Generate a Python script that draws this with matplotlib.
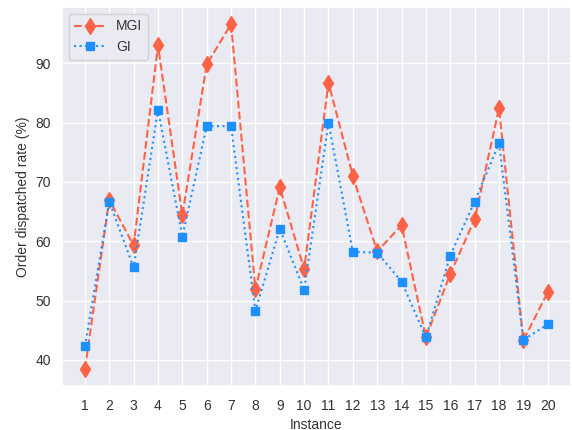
import numpy as np
import matplotlib.pyplot as plt
import seaborn as sns

sns.set_theme(style='darkgrid')
plt.rcParams['font.family'] = ['Liberation Sans', 'DejaVu Sans']

instances = np.arange(1, 21)
mgi = [38.5, 67.0, 59.3, 93.0, 64.4, 89.8, 96.6, 51.9, 69.1, 55.3,
       86.7, 71.0, 58.3, 62.7, 43.8, 54.5, 63.7, 82.4, 43.3, 51.4]
gi = [42.3, 66.7, 55.6, 82.2, 60.8, 79.4, 79.4, 48.3, 62.1, 51.8,
      80.0, 58.2, 58.1, 53.2, 43.8, 57.6, 66.7, 76.5, 43.4, 46.0]

fig, ax = plt.subplots(figsize=(5.72, 4.3), dpi=100)
ax.plot(instances, mgi, color='tomato', linestyle='--', marker='d',
        markersize=8, label='MGI')
ax.plot(instances, gi, color='dodgerblue', linestyle=':', marker='s',
        markersize=6, label='GI')

ax.set_xticks(instances)
ax.tick_params(labelsize=10, labelcolor='#333333')
ax.tick_params(axis='y', pad=2)
ax.set_xlabel('Instance', fontsize=10, labelpad=3, color='#333333')
ax.set_ylabel('Order dispatched rate (%)', fontsize=10, color='#333333')
ax.legend(loc='upper left', fontsize=10, handlelength=2.2,
          borderaxespad=0.5, labelcolor='#333333')

plt.subplots_adjust(left=0.108, right=0.998, top=0.984, bottom=0.102)
plt.savefig('out.png')
